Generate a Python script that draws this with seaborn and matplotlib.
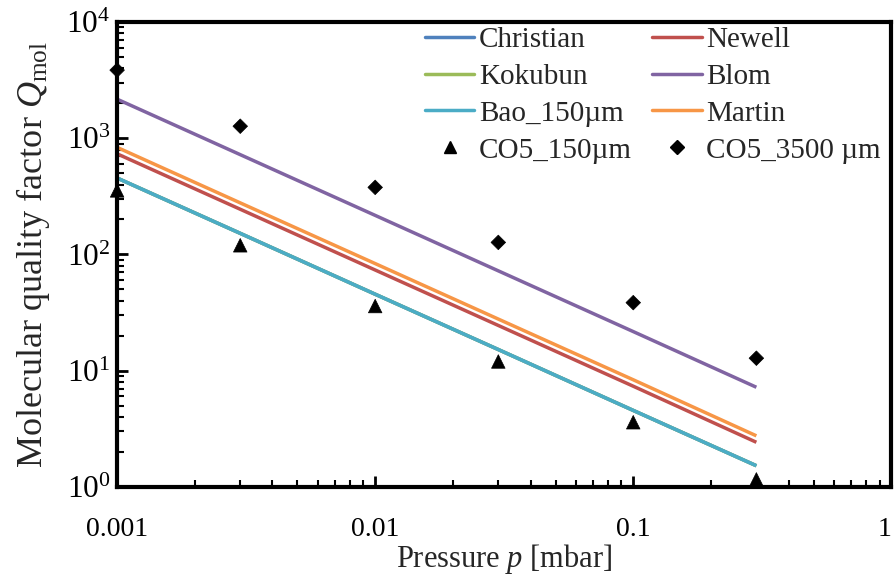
import numpy as np
import pandas as pd
import matplotlib
matplotlib.use("Agg")
import matplotlib.pyplot as plt
import seaborn as sns
from matplotlib.ticker import LogLocator, FixedLocator, FixedFormatter, NullFormatter
from matplotlib.lines import Line2D

# ---- data ----
pressure = [0.001, 0.003, 0.01, 0.03, 0.1, 0.3]
christian = [455, 152, 45.5, 15.2, 4.55, 1.52]
kokubun = [455, 152, 45.5, 15.2, 4.55, 1.52]
bao_150 = [455, 152, 45.5, 15.2, 4.55, 1.52]
newell = [735, 245, 73.5, 24.5, 7.35, 2.42]
blom = [2170, 723, 217, 72.3, 21.7, 7.2]
martin = [835, 278, 83.5, 27.8, 8.35, 2.75]
co5_150 = [356, 120, 36, 12, 3.6, 1.16]
co5_3500 = [3860, 1270, 378, 127, 38.5, 12.8]

x_ticks = [0.001, 0.01, 0.1, 1]
x_tick_labels = ["0.001", "0.01", "0.1", "1"]

line_names = ["Christian", "Kokubun", "Bao_150µm", "Newell", "Blom", "Martin"]
line_values = [christian, kokubun, bao_150, newell, blom, martin]
colors = {"Christian": "#4F81BD", "Newell": "#C0504D", "Kokubun": "#9BBB59",
          "Blom": "#8064A2", "Bao_150µm": "#4BACC6", "Martin": "#F79646"}

lines_df = pd.DataFrame({
    "p": np.tile(pressure, len(line_names)),
    "Q": np.concatenate(line_values),
    "model": np.repeat(line_names, len(pressure)),
})
pts_df = pd.DataFrame({
    "p": pressure * 2,
    "Q": co5_150 + co5_3500,
    "series": ["CO5_150µm"] * len(pressure) + ["CO5_3500 µm"] * len(pressure),
})

sns.set_style("white")
plt.rcParams["font.family"] = ["Liberation Serif", "DejaVu Serif"]
plt.rcParams["mathtext.fontset"] = "custom"
plt.rcParams["mathtext.rm"] = "Liberation Serif"
plt.rcParams["mathtext.it"] = "Liberation Serif:italic"

fig = plt.figure(figsize=(8.94, 5.81), dpi=100)
ax = fig.add_axes([0.131, 0.162, 0.866, 0.800])

draw_order = ["Christian", "Newell", "Blom", "Martin", "Kokubun", "Bao_150µm"]
for name in draw_order:
    sns.lineplot(data=lines_df[lines_df["model"] == name], x="p", y="Q",
                 color=colors[name], lw=2.5, ax=ax, legend=False,
                 solid_capstyle="butt")

sns.scatterplot(data=pts_df, x="p", y="Q", style="series", size="series",
                markers={"CO5_150µm": "^", "CO5_3500 µm": "D"},
                sizes={"CO5_150µm": 95, "CO5_3500 µm": 55},
                color="black", edgecolor="black", linewidth=0.5,
                ax=ax, legend=False, zorder=5, clip_on=False)

ax.set_xscale("log")
ax.set_yscale("log")
ax.set_xlim(0.001, 1)
ax.set_ylim(1, 1e4)

ax.xaxis.set_major_locator(FixedLocator(x_ticks))
ax.xaxis.set_major_formatter(FixedFormatter(x_tick_labels))
ax.xaxis.set_minor_locator(LogLocator(base=10, subs=np.arange(2, 10)))
ax.xaxis.set_minor_formatter(NullFormatter())
ax.yaxis.set_major_locator(LogLocator(base=10, numticks=10))
ax.yaxis.set_minor_locator(LogLocator(base=10, subs=np.arange(2, 10), numticks=10))
ax.yaxis.set_minor_formatter(NullFormatter())

ax.tick_params(which="both", direction="in", top=False, right=False,
               bottom=True, left=True, colors="black")
ax.tick_params(which="major", length=8, width=2)
ax.tick_params(which="minor", length=5, width=1.5)
ax.tick_params(axis="x", which="major", pad=22, labelsize=20)
ax.tick_params(axis="y", which="major", pad=5, labelsize=22.5)
for sp in ax.spines.values():
    sp.set_linewidth(3)
    sp.set_color("black")

ax.set_xlabel("Pressure $\\mathit{p}$ [mbar]", fontsize=22, labelpad=0)
ax.set_ylabel("Molecular quality factor $\\mathit{Q}_{\\mathrm{mol}}$", fontsize=26, labelpad=10)

fig.canvas.draw()
xlabels = ax.get_xticklabels()
xlabels[-1].set_horizontalalignment("right")

handles = []
for name in ["Christian", "Kokubun", "Bao_150µm"]:
    handles.append(Line2D([], [], color=colors[name], lw=2.5, label=name))
handles.append(Line2D([], [], color="black", marker="^", ls="none", ms=9, label="CO5_150µm"))
for name in ["Newell", "Blom", "Martin"]:
    handles.append(Line2D([], [], color=colors[name], lw=2.5, label=name))
handles.append(Line2D([], [], color="black", marker="D", ls="none", ms=7, label="CO5_3500 µm"))
ax.legend(handles=handles, ncol=2, loc="upper right", frameon=False, fontsize=21,
          handlelength=1.7, handletextpad=0.15, columnspacing=0.7, labelspacing=0.36,
          borderpad=0.15, borderaxespad=0.0, bbox_to_anchor=(0.9916, 1.0))

fig.savefig("out.png", dpi=100)
